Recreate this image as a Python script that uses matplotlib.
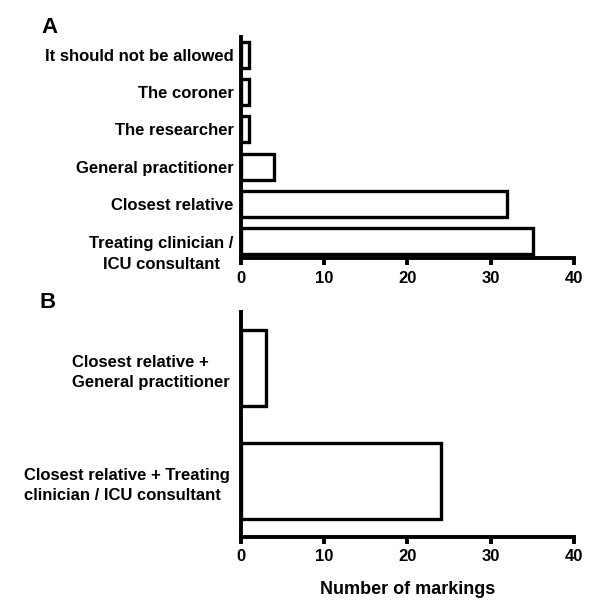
import matplotlib
matplotlib.use("Agg")
import matplotlib.pyplot as plt
from matplotlib.transforms import ScaledTranslation

plt.rcParams['font.family'] = ['Liberation Sans', 'DejaVu Sans']
plt.rcParams['font.weight'] = 'bold'

# panel A: who should give consent (single markings)
labels_a = ["Treating clinician /\nICU consultant", "Closest relative", "General practitioner",
            "The researcher", "The coroner", "It should not be allowed"]
values_a = [35, 32, 4, 1, 1, 1]

# panel B: combinations
labels_b = ["Closest relative + Treating\nclinician / ICU consultant",
            "Closest relative +\nGeneral practitioner"]
values_b = [24, 3]

xticks = [0, 10, 20, 30, 40]


def style_axis(ax):
    for s in ['top', 'right']:
        ax.spines[s].set_visible(False)
    for s in ['left', 'bottom']:
        ax.spines[s].set_linewidth(2.8)
    ax.set_xlim(0, 40)
    ax.set_xticks(xticks)
    ax.tick_params(axis='x', length=5, width=2.8, labelsize=12, pad=4)
    ax.tick_params(axis='y', length=0, labelsize=12, pad=5)


fig = plt.figure(figsize=(6, 6.13), dpi=100)

ax1 = fig.add_axes([0.401, 0.5786, 0.556, 0.3605])
ax1.barh(range(len(values_a)), values_a, height=0.7, color='white',
         edgecolor='black', linewidth=2.4)
ax1.set_ylim(-0.47, 5.48)
ax1.set_yticks(range(len(labels_a)))
ax1.set_yticklabels(labels_a, multialignment='center', linespacing=1.5)
style_axis(ax1)
# the two-line label sits a bit lower than its bar in the original
lab = ax1.get_yticklabels()[0]
lab.set_transform(lab.get_transform() + ScaledTranslation(0, -6 / 72, fig.dpi_scale_trans))

ax2 = fig.add_axes([0.401, 0.1245, 0.556, 0.367])
ax2.barh(range(len(values_b)), values_b, height=0.67, color='white',
         edgecolor='black', linewidth=2.4)
ax2.set_ylim(-0.49, 1.5)
ax2.set_yticks(range(len(labels_b)))
ax2.set_yticklabels(labels_b, multialignment='left', linespacing=1.45)
style_axis(ax2)
ax2.tick_params(axis='y', pad=8)
ax2.set_xlabel("Number of markings", fontsize=13, fontweight='bold', labelpad=12)

fig.text(0.083, 0.955, "A", fontsize=16, fontweight='bold', ha='center', va='center')
fig.text(0.08, 0.507, "B", fontsize=16, fontweight='bold', ha='center', va='center')

fig.savefig("out.png", dpi=100)
